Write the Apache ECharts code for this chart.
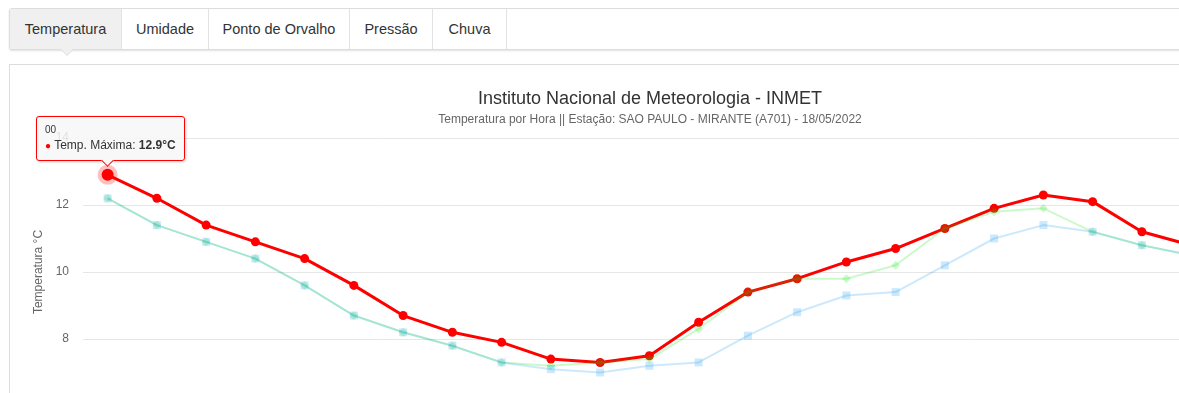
<!DOCTYPE html>
<html>
<head>
<meta charset="utf-8">
<script src="https://cdn.jsdelivr.net/npm/echarts@6/dist/echarts.min.js"></script>
<style>
  html, body { margin:0; padding:0; background:#fff; width:1179px; height:393px; overflow:hidden; font-family:"Liberation Sans", Arial, sans-serif; }
  .tabs { position:absolute; left:9px; top:8px; width:1300px; height:40px; border:1px solid #ddd; border-radius:3px; box-shadow:0 1px 2px rgba(0,0,0,0.12); display:flex; background:#fff; }
  .tab { height:40px; line-height:40px; font-size:14.5px; color:#333; text-align:center; border-right:1px solid #e3e3e3; box-sizing:border-box; position:relative; }
  .tab.active { background:#f0f0f0; }
  .tab.active:after { content:""; position:absolute; left:50%; bottom:-7px; margin-left:-6px; width:0; height:0; border-left:7px solid transparent; border-right:7px solid transparent; border-top:7px solid #ddd; }
  .tab.active:before { content:""; position:absolute; left:50%; bottom:-6px; margin-left:-5px; width:0; height:0; border-left:6px solid transparent; border-right:6px solid transparent; border-top:6px solid #f0f0f0; z-index:2; }
  .panel { position:absolute; left:9px; top:64px; width:1300px; height:420px; border:1px solid #ddd; background:#fff; }
  #chart { position:absolute; left:0; top:0; width:1280px; height:400px; }
</style>
</head>
<body>
<div class="tabs">
  <div class="tab active" style="width:112px">Temperatura</div>
  <div class="tab" style="width:87px">Umidade</div>
  <div class="tab" style="width:141px">Ponto de Orvalho</div>
  <div class="tab" style="width:83px">Pressão</div>
  <div class="tab" style="width:74px">Chuva</div>
</div>
<div class="panel"><div id="chart"></div></div>
<script>
const hours = ['00','01','02','03','04','05','06','07','08','09','10','11','12','13','14','15','16','17','18','19','20','21','22','23'];
const tempMax  = [12.9,12.2,11.4,10.9,10.4,9.6,8.7,8.2,7.9,7.4,7.3,7.5,8.5,9.4,9.8,10.3,10.7,11.3,11.9,12.3,12.1,11.2,10.8,10.4];
const tempInst = [12.2,11.4,10.9,10.4,9.6,8.7,8.2,7.8,7.3,7.2,7.3,7.4,8.3,9.4,9.8,9.8,10.2,11.3,11.8,11.9,11.2,10.8,10.5,10.2];
const tempMin  = [12.2,11.4,10.9,10.4,9.6,8.7,8.2,7.8,7.3,7.1,7.0,7.2,7.3,8.1,8.8,9.3,9.4,10.2,11.0,11.4,11.2,10.8,10.5,10.2];
const yTicks = { min: 6, max: 14, interval: 2 };
const hoverIndex = 0;

const FONT = '"Liberation Sans", Arial, sans-serif';
const chart = echarts.init(document.getElementById('chart'), null, { renderer: 'canvas' });

const maxData = tempMax.map((v, i) => i === hoverIndex
  ? { value: v, symbolSize: 12, itemStyle: { borderColor: 'rgba(255,0,0,0.25)', borderWidth: 8 } }
  : v);

chart.setOption({
  animation: false,
  textStyle: { fontFamily: FONT },
  title: {
    text: 'Instituto Nacional de Meteorologia - INMET',
    subtext: 'Temperatura por Hora || Estação: SAO PAULO - MIRANTE (A701) - 18/05/2022',
    left: 'center',
    top: 20,
    itemGap: 6,
    textStyle: { fontFamily: FONT, fontSize: 18, fontWeight: 'normal', color: '#333' },
    subtextStyle: { fontFamily: FONT, fontSize: 12, color: '#666' }
  },
  grid: { left: 73, right: 25, top: 73, bottom: 59 },
  tooltip: {
    trigger: 'item',
    triggerOn: 'none',
    alwaysShowContent: true,
    transitionDuration: 0,
    backgroundColor: 'rgba(247,247,247,0.85)',
    borderColor: '#ff0000',
    borderWidth: 1,
    borderRadius: 3,
    padding: [7, 8, 5, 8],
    extraCssText: 'box-shadow:1px 1px 3px rgba(0,0,0,0.18);overflow:visible;',
    textStyle: { fontFamily: FONT, fontSize: 12, color: '#333' },
    position: function (point, params, dom, rect, size) {
      return [point[0] - size.contentSize[0] / 2 + 3, point[1] - size.contentSize[1] - 14];
    },
    formatter: function (p) {
      return '<div style="font-size:10px;line-height:12px">' + p.name + '</div>' +
        '<div style="font-size:12px;line-height:18px;white-space:nowrap"><span style="color:' + p.color + ';font-size:10px">\u25CF</span> ' +
        p.seriesName + ': <b>' + p.value + '°C</b></div>' +
        '<div style="position:absolute;left:calc(50% - 7.5px);bottom:-5px;width:8px;height:8px;background:#f8f8f8;border-right:1px solid #ff0000;border-bottom:1px solid #ff0000;transform:rotate(45deg)"></div>';
    }
  },
  xAxis: {
    type: 'category',
    data: hours,
    boundaryGap: true,
    axisLine: { lineStyle: { color: '#ccd6eb' } },
    axisTick: { show: true, lineStyle: { color: '#ccd6eb' } },
    axisLabel: { color: '#666', fontSize: 11, fontFamily: FONT }
  },
  yAxis: {
    type: 'value',
    min: yTicks.min,
    max: yTicks.max,
    interval: yTicks.interval,
    name: 'Temperatura °C',
    nameLocation: 'middle',
    nameGap: 30,
    nameTextStyle: { color: '#666', fontSize: 12, fontFamily: FONT },
    axisLine: { show: false },
    axisTick: { show: false },
    axisLabel: { color: '#666', fontSize: 12, margin: 14, fontFamily: FONT },
    splitLine: { lineStyle: { color: '#e6e6e6', width: 1 } }
  },
  series: [
    {
      name: 'Temp. Máxima',
      type: 'line',
      data: maxData,
      z: 2,
      symbol: 'circle',
      symbolSize: 9,
      color: '#ff0000',
      lineStyle: { color: '#ff0000', width: 3 },
      itemStyle: { color: '#ff0000' }
    },
    {
      name: 'Temp. Instantânea',
      type: 'line',
      data: tempInst,
      z: 3,
      symbol: 'diamond',
      symbolSize: 9,
      color: '#00e000',
      lineStyle: { color: '#00e000', width: 2, opacity: 0.2 },
      itemStyle: { color: '#00e000', opacity: 0.2 }
    },
    {
      name: 'Temp. Mínima',
      type: 'line',
      data: tempMin,
      z: 4,
      symbol: 'rect',
      symbolSize: 8,
      color: '#0090ee',
      lineStyle: { color: '#0090ee', width: 2, opacity: 0.2 },
      itemStyle: { color: '#0090ee', opacity: 0.2 }
    }
  ]
});

chart.dispatchAction({ type: 'showTip', seriesIndex: 0, dataIndex: hoverIndex });
</script>
</body>
</html>
